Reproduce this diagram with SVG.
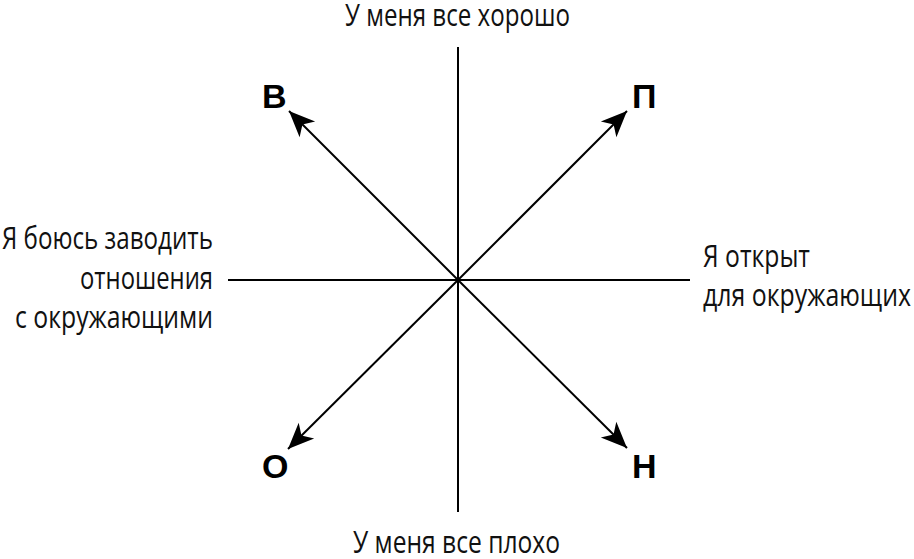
<svg xmlns="http://www.w3.org/2000/svg" width="914" height="559" viewBox="0 0 914 559">
<style>
.lbl{font-family:"Open Sans","Liberation Sans",sans-serif;font-size:31px;fill:#111}
.big{font-family:"Liberation Sans",Arial,sans-serif;font-weight:bold;font-size:34px;fill:#000}
.ax{stroke:#000;stroke-width:2;fill:none}
.arr{stroke:#000;stroke-width:2;fill:none;marker-end:url(#ah)}
</style>
<defs>
<marker id="ah" markerUnits="userSpaceOnUse" viewBox="-27 -12 29 24" refX="0" refY="0" markerWidth="29" markerHeight="24" orient="auto">
<path d="M0,0 L-26,-11 L-19,0 L-26,11 Z" fill="#000"/>
</marker>
</defs>
<rect width="914" height="559" fill="#fff"/>
<g id="connectors">
<line class="ax" x1="458" y1="47" x2="458" y2="512"/>
<line class="ax" x1="228" y1="280" x2="690" y2="280"/>
<line class="arr" x1="458" y1="280" x2="289" y2="111"/>
<line class="arr" x1="458" y1="280" x2="627" y2="111"/>
<line class="arr" x1="458" y1="280" x2="288" y2="449"/>
<line class="arr" x1="458" y1="280" x2="627" y2="448"/>
</g>
<g id="top"><text class="lbl" x="345" y="26" textLength="225" lengthAdjust="spacingAndGlyphs">У меня все хорошо</text></g>
<g id="bottom"><text class="lbl" x="353" y="553" textLength="207" lengthAdjust="spacingAndGlyphs">У меня все плохо</text></g>
<g id="left">
<text class="lbl" x="2" y="249" textLength="211" lengthAdjust="spacingAndGlyphs">Я боюсь заводить</text>
<text class="lbl" x="80" y="289" textLength="133" lengthAdjust="spacingAndGlyphs">отношения</text>
<text class="lbl" x="15" y="328" textLength="198" lengthAdjust="spacingAndGlyphs">с окружающими</text>
</g>
<g id="right">
<text class="lbl" x="703" y="267" textLength="107" lengthAdjust="spacingAndGlyphs">Я открыт</text>
<text class="lbl" x="703" y="306" textLength="208" lengthAdjust="spacingAndGlyphs">для окружающих</text>
</g>
<g id="nodeV"><text class="big" x="262" y="108">В</text></g>
<g id="nodeP"><text class="big" x="632" y="108">П</text></g>
<g id="nodeO"><text class="big" x="262" y="478">О</text></g>
<g id="nodeN"><text class="big" x="632" y="478">Н</text></g>
</svg>
